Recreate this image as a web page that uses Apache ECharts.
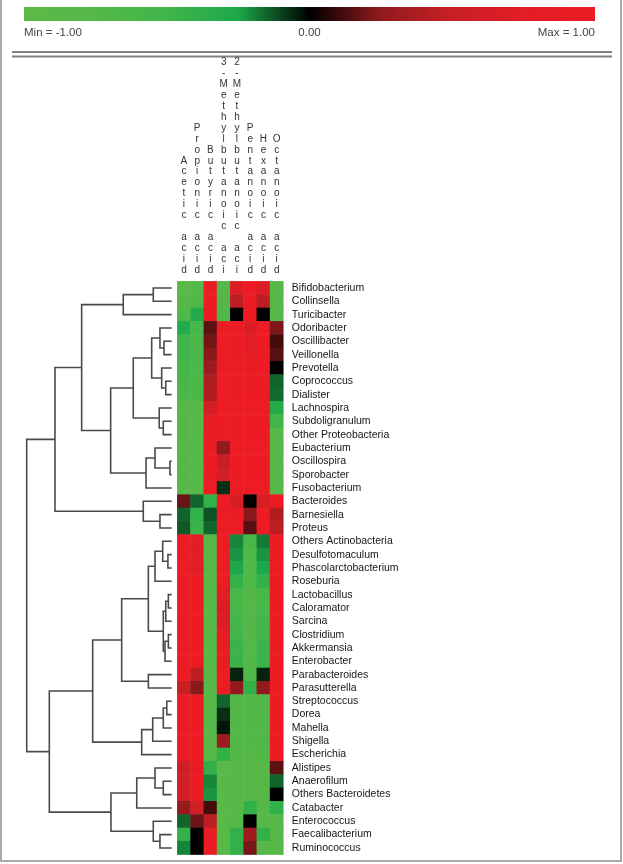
<!DOCTYPE html>
<html>
<head>
<meta charset="utf-8">
<script src="https://cdn.jsdelivr.net/npm/echarts@6/dist/echarts.min.js"></script>
<style>
html,body{margin:0;padding:0;background:#fff;}
#chart{width:623px;height:864px;}
</style>
</head>
<body>
<div id="chart"></div>
<script>
// ---------------- data ----------------
const colLabels = ['Acetic acid', 'Propionic acid', 'Butyric acid', '3-Methylbutanoic acid',
  '2-Methylbutanoic acid', 'Pentanoic acid', 'Hexanoic acid', 'Octanoic acid'];

const rowLabels = ['Bifidobacterium', 'Collinsella', 'Turicibacter', 'Odoribacter', 'Oscillibacter',
  'Veillonella', 'Prevotella', 'Coprococcus', 'Dialister', 'Lachnospira', 'Subdoligranulum',
  'Other Proteobacteria', 'Eubacterium', 'Oscillospira', 'Sporobacter', 'Fusobacterium',
  'Bacteroides', 'Barnesiella', 'Proteus', 'Others Actinobacteria', 'Desulfotomaculum',
  'Phascolarctobacterium', 'Roseburia', 'Lactobacillus', 'Caloramator', 'Sarcina', 'Clostridium',
  'Akkermansia', 'Enterobacter', 'Parabacteroides', 'Parasutterella', 'Streptococcus', 'Dorea',
  'Mahella', 'Shigella', 'Escherichia', 'Alistipes', 'Anaerofilum', 'Others Bacteroidetes',
  'Catabacter', 'Enterococcus', 'Faecalibacterium', 'Ruminococcus'];

// correlation values, one row per taxon, columns in colLabels order
const cellValues = [
  [-0.9, -0.75, 1, -0.75, 0.7, 1, 0.7, -0.8],
  [-0.85, -0.7, 1, -0.75, 0.45, 1, 0.45, -0.8],
  [-0.7, -0.3, 1, -0.7, 0, 1, 0, -0.8],
  [-0.3, -0.6, 0.16, 1, 1, 0.7, 1, 0.22],
  [-0.5, -0.65, 0.2, 1, 1, 0.75, 1, 0.12],
  [-0.5, -0.65, 0.24, 1, 1, 0.85, 1, 0.15],
  [-0.55, -0.65, 0.3, 1, 1, 0.9, 1, 0],
  [-0.6, -0.65, 0.38, 1, 1, 0.95, 1, -0.15],
  [-0.65, -0.65, 0.4, 1, 1, 1, 1, -0.16],
  [-0.8, -0.8, 0.6, 1, 1, 1, 1, -0.3],
  [-0.8, -0.8, 0.85, 1, 1, 1, 1, -0.5],
  [-0.8, -0.8, 0.9, 1, 1, 1, 1, -0.8],
  [-0.8, -0.8, 0.95, 0.25, 1, 1, 1, -0.8],
  [-0.8, -0.8, 1, 0.5, 1, 1, 1, -0.8],
  [-0.8, -0.8, 1, 0.6, 1, 1, 1, -0.8],
  [-0.8, -0.8, 1, -0.07, 1, 1, 1, -0.8],
  [0.18, -0.15, -0.4, 1, 0.65, 0, 0.65, 1],
  [-0.15, -0.4, -0.12, 1, 1, 0.24, 1, 0.4],
  [-0.13, -0.45, -0.15, 1, 1, 0.15, 1, 0.45],
  [1, 0.75, -0.8, 1, -0.2, -0.6, -0.18, 1],
  [1, 0.75, -0.8, 1, -0.22, -0.7, -0.22, 1],
  [1, 0.75, -0.8, 1, -0.25, -0.7, -0.25, 1],
  [1, 0.95, -0.8, 1, -0.4, -0.7, -0.4, 1],
  [1, 1, -0.8, 0.75, -0.6, -0.75, -0.6, 1],
  [1, 1, -0.8, 0.7, -0.6, -0.75, -0.6, 1],
  [1, 1, -0.8, 0.7, -0.55, -0.75, -0.55, 1],
  [1, 1, -0.8, 0.85, -0.5, -0.75, -0.5, 1],
  [1, 1, -0.8, 0.9, -0.45, -0.75, -0.45, 1],
  [1, 1, -0.8, 0.9, -0.45, -0.75, -0.45, 1],
  [1, 0.45, -0.8, 1, -0.05, -0.7, -0.05, 1],
  [0.5, 0.24, -0.8, 1, 0.26, -0.4, 0.26, 1],
  [1, 1, -0.8, -0.15, -0.75, -0.75, -0.75, 1],
  [1, 1, -0.8, -0.07, -0.75, -0.75, -0.75, 1],
  [1, 1, -0.8, -0.03, -0.75, -0.75, -0.75, 1],
  [1, 1, -0.8, 0.3, -0.7, -0.75, -0.7, 1],
  [1, 1, -0.8, -0.4, -0.75, -0.8, -0.75, 1],
  [0.55, 0.9, -0.4, -0.9, -0.85, -0.85, -0.85, 0.16],
  [0.55, 0.95, -0.2, -0.9, -0.85, -0.85, -0.85, -0.15],
  [0.6, 0.9, -0.22, -0.9, -0.85, -0.85, -0.85, 0],
  [0.28, 0.55, 0.12, -0.9, -0.85, -0.4, -0.85, -0.4],
  [-0.15, 0.19, 0.45, -0.9, -0.8, 0, -0.8, -0.8],
  [-0.4, 0, 0.9, -0.9, -0.4, 0.32, -0.4, -0.8],
  [-0.2, 0, 1, -0.9, -0.4, 0.21, -0.8, -0.8]
];

// dendrogram merges: [node id, left child, right child, merge distance]
// numeric children are row indices (leaves)
const dendroMerges = [
  ['A', 0, 1, 0.127], ['B', 'A', 2, 0.334],
  ['C1', 4, 5, 0.053], ['C', 3, 'C1', 0.081],
  ['D1', 7, 8, 0.041], ['D', 6, 'D1', 0.069],
  ['E', 'C', 'D', 0.138],
  ['F1', 10, 11, 0.058], ['F', 9, 'F1', 0.086],
  ['G', 'E', 'F', 0.265],
  ['H1', 13, 14, 0.012], ['H', 12, 'H1', 0.115], ['I', 'H', 15, 0.177],
  ['J', 'G', 'I', 0.421], ['K', 'B', 'J', 0.621],
  ['L1', 17, 18, 0.081], ['L', 16, 'L1', 0.196],
  ['M', 'K', 'L', 0.805],
  ['N1a', 20, 21, 0.026], ['N1', 19, 'N1a', 0.062], ['N2', 'N1', 22, 0.115],
  ['P1a', 23, 24, 0.023], ['P1', 'P1a', 25, 0.041],
  ['P2a', 26, 27, 0.023], ['P2', 'P2a', 28, 0.046], ['P', 'P1', 'P2', 0.058],
  ['Q', 'N2', 'P', 0.161], ['R', 29, 30, 0.161], ['S', 'Q', 'R', 0.345],
  ['T1', 31, 32, 0.034], ['T2', 'T1', 33, 0.058], ['T3', 'T2', 34, 0.131], ['T', 'T3', 35, 0.207],
  ['U', 'S', 'T', 0.545],
  ['V1', 37, 38, 0.058], ['V2', 36, 'V1', 0.115], ['V', 'V2', 39, 0.241],
  ['W1', 41, 42, 0.081], ['W', 40, 'W1', 0.127],
  ['X', 'V', 'W', 0.419], ['Y', 'U', 'X', 0.844],
  ['Root', 'M', 'Y', 1.0]
];

const scaleMin = -1, scaleMax = 1;
const scaleColors = ['#5cb947', '#54b848', '#40b64a', '#1ca84a', '#000000',
  '#901a1d', '#c81f25', '#e21d25', '#ed1c24'];
const scaleTexts = ['Min = -1.00', '0.00', 'Max = 1.00'];

// ---------------- build ----------------
const heatData = [];
cellValues.forEach((row, r) => row.forEach((v, c) => heatData.push([c, r, v])));

const nodePos = {};
function pos(ch) {
  if (typeof ch === 'number') return { h: 0, y: ch };
  return nodePos[ch];
}
const dendroLines = [];
dendroMerges.forEach(([id, a, b, h]) => {
  const pa = pos(a), pb = pos(b);
  dendroLines.push({ coords: [[pa.h, pa.y], [h, pa.y], [h, pb.y], [pb.h, pb.y]] });
  nodePos[id] = { h: h, y: (pa.y + pb.y) / 2 };
});

const gridTop = 281.3, gridH = 573.3;
const FONT = 'Liberation Sans, Arial, sans-serif';

const chart = echarts.init(document.getElementById('chart'), null, { renderer: 'canvas' });
const gradStops = scaleColors.map((c, i) => ({ offset: i / (scaleColors.length - 1), color: c }));

chart.setOption({
  animation: false,
  backgroundColor: '#ffffff',
  visualMap: {
    show: false, type: 'continuous', min: scaleMin, max: scaleMax,
    seriesIndex: 1, dimension: 2, inRange: { color: scaleColors }
  },
  grid: [
    { left: 26.7, top: gridTop, width: 145, height: gridH },
    { left: 177.3, top: gridTop, width: 106, height: gridH }
  ],
  xAxis: [
    { gridIndex: 0, type: 'value', min: 0, max: 1, inverse: true, show: false },
    {
      gridIndex: 1, type: 'category', data: colLabels, position: 'top',
      axisLine: { show: false }, axisTick: { show: false }, splitLine: { show: false },
      axisLabel: {
        interval: 0, margin: 6, fontSize: 10, lineHeight: 10.9, color: '#333',
        fontFamily: FONT, align: 'center',
        formatter: v => v.slice(0, 20).split('').join('\n')
      }
    }
  ],
  yAxis: [
    { gridIndex: 0, type: 'value', min: -0.5, max: rowLabels.length - 0.5, inverse: true, show: false },
    {
      gridIndex: 1, type: 'category', data: rowLabels, inverse: true, position: 'right',
      axisLine: { show: false }, axisTick: { show: false }, splitLine: { show: false },
      axisLabel: { interval: 0, margin: 8.5, fontSize: 10.5, color: '#151515', fontFamily: FONT }
    }
  ],
  series: [
    {
      type: 'lines', coordinateSystem: 'cartesian2d', xAxisIndex: 0, yAxisIndex: 0,
      polyline: true, silent: true, data: dendroLines,
      lineStyle: { color: '#4a4a4a', width: 1.6, opacity: 1 }
    },
    {
      type: 'heatmap', xAxisIndex: 1, yAxisIndex: 1, data: heatData,
      itemStyle: { borderWidth: 0 }, emphasis: { disabled: true }, silent: true
    }
  ],
  graphic: [
    { type: 'rect', shape: { x: 24, y: 7, width: 571, height: 14 },
      style: { fill: new echarts.graphic.LinearGradient(0, 0, 1, 0, gradStops) }, silent: true },
    { type: 'text', x: 24, y: 33, style: { text: scaleTexts[0], fill: '#444', font: '11.5px ' + FONT, textVerticalAlign: 'middle', textAlign: 'left' } },
    { type: 'text', x: 309.5, y: 33, style: { text: scaleTexts[1], fill: '#444', font: '11.5px ' + FONT, textVerticalAlign: 'middle', textAlign: 'center' } },
    { type: 'text', x: 595, y: 33, style: { text: scaleTexts[2], fill: '#444', font: '11.5px ' + FONT, textVerticalAlign: 'middle', textAlign: 'right' } },
    { type: 'line', shape: { x1: 12, y1: 52, x2: 612, y2: 52 }, style: { stroke: '#808080', lineWidth: 2 } },
    { type: 'line', shape: { x1: 12, y1: 56.5, x2: 612, y2: 56.5 }, style: { stroke: '#808080', lineWidth: 2 } },
    { type: 'rect', shape: { x: 1, y: -5, width: 620, height: 866 }, style: { fill: 'none', stroke: '#aaaaaa', lineWidth: 2 } }
  ]
});
</script>
</body>
</html>
